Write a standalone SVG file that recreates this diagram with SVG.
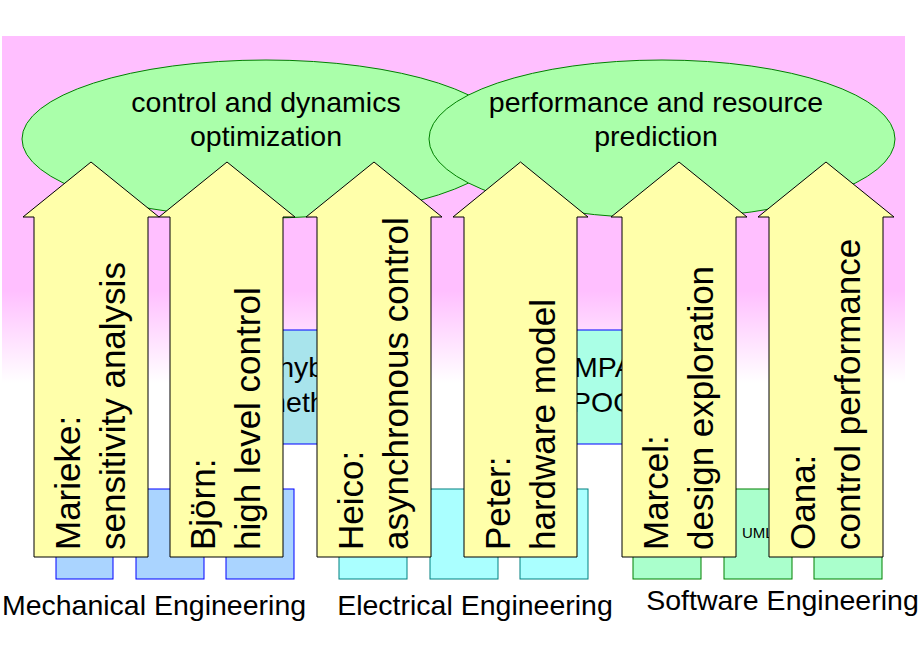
<svg xmlns="http://www.w3.org/2000/svg" width="920" height="660" viewBox="0 0 920 660">
<defs>
<linearGradient id="bg" x1="0" y1="0" x2="0" y2="1">
<stop offset="0" stop-color="#FFBFFF"/>
<stop offset="0.72" stop-color="#FFBFFF"/>
<stop offset="0.98" stop-color="#FFFFFF"/>
</linearGradient>
<style>
.t{font-family:"Liberation Sans",Arial,sans-serif;fill:#000}
.big{font-size:28.5px}
.arr{font-size:35px}
.arrow{fill:#FFFFAA;stroke:#000;stroke-width:1}
.ell{fill:#AAFFAA;stroke:#008000;stroke-width:1}
.me{fill:#AAD4FF;stroke:#0000FF;stroke-width:1}
.ee{fill:#AAFFFF;stroke:#008080;stroke-width:1}
.se{fill:#AAFFCC;stroke:#008000;stroke-width:1}
</style>
</defs>
<rect x="0" y="0" width="920" height="660" fill="#FFFFFF"/>
<rect x="2" y="36" width="903" height="354" fill="url(#bg)"/>

<g id="mech-boxes">
<rect class="me" x="56" y="489" width="57" height="90"/>
<rect class="me" x="136" y="489" width="68" height="90"/>
<rect class="me" x="226" y="489" width="68" height="90"/>
</g>
<g id="elec-boxes">
<rect class="ee" x="339" y="489" width="68" height="90"/>
<rect class="ee" x="430" y="489" width="68" height="90"/>
<rect class="ee" x="520" y="489" width="68" height="90"/>
</g>
<g id="soft-boxes">
<rect class="se" x="633" y="489" width="68" height="90"/>
<rect class="se" x="724" y="489" width="68" height="90"/>
<rect class="se" x="814" y="489" width="68" height="90"/>
<text class="t" x="742" y="538" font-size="15" fill="#222">UML</text>
</g>

<g id="hybrid">
<rect x="250" y="330" width="135" height="114" fill="#A8E4EC" stroke="#0000FF" stroke-width="1"/>
<text class="t big" text-anchor="middle"><tspan x="317" y="377">hybrid</tspan><tspan x="317" y="412">methods</tspan></text>
</g>
<g id="mpa">
<rect x="540" y="330" width="120" height="114" fill="#AAFFE6" stroke="#0000FF" stroke-width="1"/>
<text class="t big"><tspan x="574" y="377">MPA</tspan><tspan x="572" y="412">POOSL</tspan></text>
</g>

<g id="control">
<ellipse class="ell" cx="266" cy="139" rx="244" ry="79"/>
<text class="t big" text-anchor="middle"><tspan x="266" y="112">control and dynamics</tspan><tspan x="266" y="146">optimization</tspan></text>
</g>
<g id="performance">
<ellipse class="ell" cx="662" cy="139" rx="233" ry="79"/>
<text class="t big" text-anchor="middle"><tspan x="656" y="112">performance and resource</tspan><tspan x="656" y="146">prediction</tspan></text>
</g>

<g id="connectors">
<g id="marieke">
<polygon class="arrow" points="34,557 34,217 23,217 91,162 159,217 148,217 148,557"/>
<text class="t arr" transform="translate(80,550) rotate(-90)"><tspan x="0" y="0">Marieke:</tspan><tspan x="0" y="45">sensitivity analysis</tspan></text>
</g>
<g id="bjorn">
<polygon class="arrow" points="170,557 170,217 159,217 227,162 295,217 283,217 283,557"/>
<text class="t arr" transform="translate(215,550) rotate(-90)"><tspan x="0" y="0">Björn:</tspan><tspan x="0" y="45">high level control</tspan></text>
</g>
<g id="heico">
<polygon class="arrow" points="317,557 317,217 306,217 374,162 442,217 431,217 431,557"/>
<text class="t arr" transform="translate(363,550) rotate(-90)"><tspan x="0" y="0">Heico:</tspan><tspan x="0" y="45">asynchronous control</tspan></text>
</g>
<g id="peter">
<polygon class="arrow" points="464,557 464,217 453,217 520.5,162 588,217 577,217 577,557"/>
<text class="t arr" transform="translate(509.5,550) rotate(-90)"><tspan x="0" y="0">Peter:</tspan><tspan x="0" y="45">hardware model</tspan></text>
</g>
<g id="marcel">
<polygon class="arrow" points="622,557 622,217 611,217 679,162 747,217 736,217 736,557"/>
<text class="t arr" transform="translate(668,550) rotate(-90)"><tspan x="0" y="0">Marcel:</tspan><tspan x="0" y="45">design exploration</tspan></text>
</g>
<g id="oana">
<polygon class="arrow" points="769,557 769,217 758,217 826,162 894,217 883,217 883,557"/>
<text class="t arr" transform="translate(815,550) rotate(-90)"><tspan x="0" y="0">Oana:</tspan><tspan x="0" y="45">control performance</tspan></text>
</g>
</g>

<g id="labels">
<text class="t big" x="154" y="615" text-anchor="middle">Mechanical Engineering</text>
<text class="t big" x="475" y="615" text-anchor="middle">Electrical Engineering</text>
<text class="t big" x="782.5" y="610" text-anchor="middle">Software Engineering</text>
</g>
</svg>
